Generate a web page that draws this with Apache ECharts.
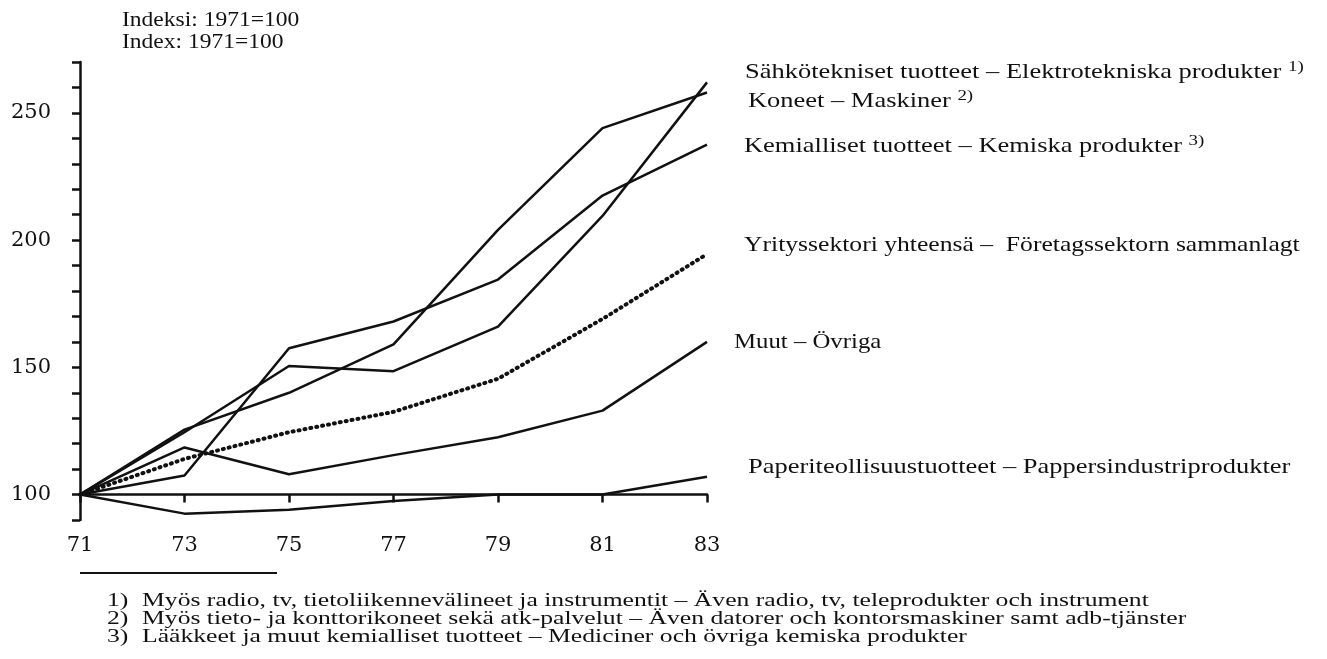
<!DOCTYPE html>
<html>
<head>
<meta charset="utf-8">
<script src="https://cdn.jsdelivr.net/npm/echarts@6/dist/echarts.min.js"></script>
<style>
  html, body { margin: 0; padding: 0; background: #fff; }
  #main { width: 1327px; height: 659px; }
</style>
</head>
<body>
<div id="main"></div>
<script>
// vuodet / år
var years = [71, 73, 75, 77, 79, 81, 83];

// indeksit 1971=100
var sahko  = [100, 124.5, 150.5, 148.5, 166, 209.5, 262];
var koneet = [100, 125.5, 140, 159, 204, 244, 258];
var kemia  = [100, 107.5, 157.5, 168, 184.5, 217.5, 237.5];
var yritys = [100, 114, 124.5, 132.5, 145.5, 169, 194.5];
var muut   = [100, 118.5, 108, 115.5, 122.5, 133, 160];
var paperi = [100, 92.5, 94, 97.5, 100, 100, 107];

var yLabels = [100, 150, 200, 250];
var base = 100;

var font = 'Liberation Serif';
var numFont = 'DejaVu Serif';

function pts(vals){
    var out = [];
    for(var i=0;i<years.length;i++){
        out.push([years[i], vals[i]-base]);
    }
    return out;
}

function line(name, vals, dotted){
    return {
        name: name,
        type: 'line',
        data: pts(vals),
        symbol: 'none',
        silent: true,
        lineStyle: dotted ? {color:'#111', width:4, type:[1,5], cap:'round'}
                          : {color:'#111', width:2.5}
    };
}

var chart = echarts.init(document.getElementById('main'));
var option = {
    animation: false,
    backgroundColor: '#fff',
    grid: {left: 80, right: 620, top: 62, bottom: 139},
    xAxis: {
        type: 'value',
        min: 71, max: 83, interval: 2,
        axisLine: {onZero: true, lineStyle: {color:'#111', width:2.5}},
        axisTick: {length: 8, lineStyle: {color:'#111', width:2.5}},
        axisLabel: {margin: 15, fontSize: 21, fontFamily: numFont, color:'#111'},
        splitLine: {show:false}
    },
    yAxis: {
        type: 'value',
        min: -10, max: 170, interval: 10,
        axisLine: {show:true, onZero:false, lineStyle: {color:'#111', width:2.5}},
        axisTick: {show:true, length: 8, lineStyle: {color:'#111', width:2.5}},
        axisLabel: {
            margin: 29, fontSize: 21, fontFamily: numFont, color:'#111',
            formatter: function(v){
                return yLabels.indexOf(v+base) >= 0 ? String(v+base) : '';
            }
        },
        splitLine: {show:false}
    },
    series: [
        line('Sähkötekniset tuotteet', sahko),
        line('Koneet', koneet),
        line('Kemialliset tuotteet', kemia),
        line('Yrityssektori yhteensä', yritys, true),
        line('Muut', muut),
        line('Paperiteollisuustuotteet', paperi)
    ],
    graphic: []
};

var rich = {
    t: {fontSize: 21, fontFamily: font, fill:'#111'},
    s: {fontSize: 15, fontFamily: font, fill:'#111', verticalAlign:'top', padding:[0,0,9,0]}
};
// text is stretched sideways to match the wide type of the original
function txt(x, y, text, size, sx){
    return {type:'text', x:x, y:y, scaleX:sx, silent:true,
        style:{text:text, font: size+'px "'+font+'"', fill:'#111', verticalAlign:'middle'}};
}
function richTxt(x, y, text, sx){
    return {type:'text', x:x, y:y, scaleX:sx, silent:true,
        style:{text:text, rich:rich, font:'21px "'+font+'"', fill:'#111', verticalAlign:'middle'}};
}

var lab = 1.26, foot = 1.35;
option.graphic = [
    txt(122, 20, 'Indeksi: 1971=100', 21, 1.12),
    txt(122, 42, 'Index: 1971=100', 21, 1.12),
    richTxt(745, 72, '{t|Sähkötekniset tuotteet – Elektrotekniska produkter }{s|1)}', lab),
    richTxt(748, 101, '{t|Koneet – Maskiner }{s|2)}', lab),
    richTxt(744, 146, '{t|Kemialliset tuotteet – Kemiska produkter }{s|3)}', lab),
    txt(744, 245, 'Yrityssektori yhteensä –  Företagssektorn sammanlagt', 21, 1.22),
    txt(734, 342, 'Muut – Övriga', 21, 1.18),
    txt(748, 467, 'Paperiteollisuustuotteet – Pappersindustriprodukter', 21, lab),
    {type:'line', silent:true, shape:{x1:80, y1:573, x2:277, y2:573}, style:{stroke:'#111', lineWidth:2}},
    txt(107, 601, '1)', 19, foot),
    txt(142, 601, 'Myös radio, tv, tietoliikennevälineet ja instrumentit – Även radio, tv, teleprodukter och instrument', 19, foot),
    txt(107, 619, '2)', 19, foot),
    txt(142, 619, 'Myös tieto- ja konttorikoneet sekä atk-palvelut – Även datorer och kontorsmaskiner samt adb-tjänster', 19, foot),
    txt(107, 637, '3)', 19, foot),
    txt(142, 637, 'Lääkkeet ja muut kemialliset tuotteet – Mediciner och övriga kemiska produkter', 19, foot)
];

chart.setOption(option);
</script>
</body>
</html>
